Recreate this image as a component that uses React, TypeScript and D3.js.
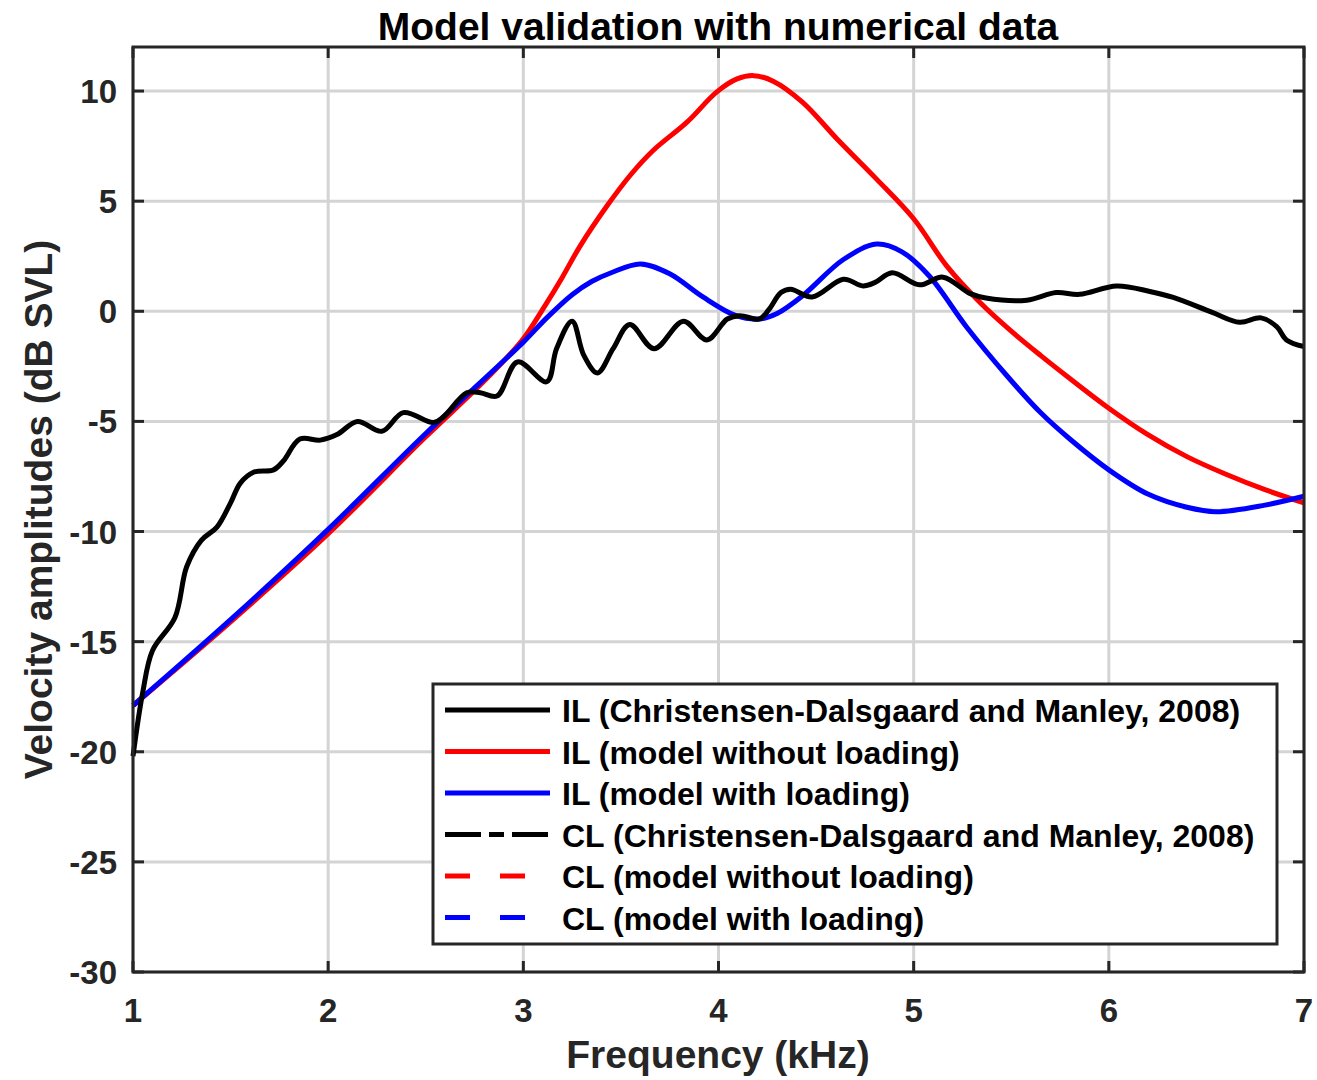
import React from "react";
import * as d3 from "d3";

const blackF = [1.0, 1.05, 1.1, 1.215, 1.275, 1.35, 1.43, 1.5, 1.55, 1.62, 1.72, 1.77, 1.855, 1.96, 2.045, 2.15, 2.275, 2.385, 2.54, 2.59, 2.71, 2.78, 2.865, 2.97, 3.12, 3.17, 3.25, 3.31, 3.38, 3.46, 3.545, 3.67, 3.82, 3.94, 4.045, 4.11, 4.21, 4.26, 4.32, 4.37, 4.48, 4.64, 4.74, 4.8, 4.89, 5.03, 5.15, 5.29, 5.37, 5.58, 5.73, 5.85, 6.04, 6.21, 6.33, 6.53, 6.67, 6.78, 6.86, 6.91, 7.0];
const blackV = [-20.2, -17.3, -15.4, -13.9, -11.6, -10.4, -9.8, -8.7, -7.8, -7.3, -7.2, -6.8, -5.8, -5.85, -5.6, -5.0, -5.45, -4.6, -5.05, -4.8, -3.7, -3.7, -3.85, -2.3, -3.2, -1.7, -0.45, -2.0, -2.8, -1.7, -0.6, -1.7, -0.45, -1.3, -0.35, -0.2, -0.35, 0.1, 0.85, 1.0, 0.65, 1.45, 1.15, 1.3, 1.75, 1.2, 1.55, 0.8, 0.6, 0.5, 0.85, 0.77, 1.15, 0.9, 0.63, -0.05, -0.5, -0.3, -0.7, -1.3, -1.6];

const redF = [1.0, 1.5, 2.0, 2.5, 2.75, 2.9, 3.0, 3.1, 3.2, 3.29, 3.43, 3.55, 3.665, 3.84, 3.99, 4.095, 4.18, 4.28, 4.43, 4.61, 4.81, 5.0, 5.17, 5.34, 5.5, 5.65, 5.8, 6.0, 6.2, 6.4, 6.6, 6.8, 7.0];
const redV = [-17.9, -14.1, -10.1, -5.7, -3.6, -2.25, -1.25, 0.1, 1.55, 2.95, 4.8, 6.2, 7.3, 8.6, 9.95, 10.55, 10.7, 10.45, 9.5, 7.8, 6.0, 4.2, 2.05, 0.4, -0.9, -2.0, -3.05, -4.4, -5.6, -6.6, -7.4, -8.1, -8.7];

const blueF = [1.0, 1.5, 2.0, 2.5, 3.0, 3.12, 3.25, 3.35, 3.45, 3.6, 3.75, 3.92, 4.09, 4.21, 4.3, 4.43, 4.64, 4.81, 4.94, 5.08, 5.27, 5.48, 5.65, 5.8, 6.0, 6.2, 6.4, 6.55, 6.8, 7.0];
const blueV = [-17.9, -14.0, -9.9, -5.55, -1.4, -0.3, 0.75, 1.35, 1.75, 2.15, 1.7, 0.65, -0.2, -0.35, -0.1, 0.7, 2.35, 3.05, 2.7, 1.6, -0.7, -2.95, -4.6, -5.8, -7.2, -8.3, -8.9, -9.1, -8.8, -8.4];

const xTicks = [1, 2, 3, 4, 5, 6, 7];
const yTicks = [-30, -25, -20, -15, -10, -5, 0, 5, 10];

const legendLabels = [
  "IL (Christensen-Dalsgaard and Manley, 2008)",
  "IL (model without loading)",
  "IL (model with loading)",
  "CL (Christensen-Dalsgaard and Manley, 2008)",
  "CL (model without loading)",
  "CL (model with loading)",
];
const legendColors = ["#000000", "#ff0000", "#0000ff", "#000000", "#ff0000", "#0000ff"];
const legendDash = ["", "", "", "36,8,15,8", "25,30", "25,30"];

const title = "Model validation with numerical data";
const xLabel = "Frequency (kHz)";
const yLabel = "Velocity amplitudes (dB SVL)";

export default function App() {
  const left = 133, right = 1304, top = 47, bottom = 972;
  const x = d3.scaleLinear().domain([1, 7]).range([left, right]);
  const y = d3.scaleLinear().domain([-30, 12]).range([bottom, top]);
  const font = "'Liberation Sans', Arial, Helvetica, sans-serif";
  const axisColor = "#262626";

  const mk = (F: number[], V: number[], curve: any) =>
    d3.line<number>().x((_, i) => x(F[i])).y((_, i) => y(V[i])).curve(curve)(F) || "";

  const blackPath = mk(blackF, blackV, d3.curveCatmullRom.alpha(0.5));
  const redPath = mk(redF, redV, d3.curveCatmullRom.alpha(0.5));
  const bluePath = mk(blueF, blueV, d3.curveCatmullRom.alpha(0.5));

  const lgX = 433, lgY = 684, lgW = 844, lgH = 260, rowH = 41.5;

  return (
    <svg width={1317} height={1080} style={{ position: "absolute", left: 0, top: 0, background: "#fff" }} fontFamily={font}>
      <rect x={0} y={0} width={1317} height={1080} fill="#fff" />
      {xTicks.map((t) => (
        <line key={"gx" + t} x1={x(t)} x2={x(t)} y1={top} y2={bottom} stroke="#d4d4d4" strokeWidth={3} />
      ))}
      {yTicks.map((t) => (
        <line key={"gy" + t} x1={left} x2={right} y1={y(t)} y2={y(t)} stroke="#d4d4d4" strokeWidth={3} />
      ))}
      {xTicks.map((t) => (
        <g key={"tx" + t}>
          <line x1={x(t)} x2={x(t)} y1={bottom} y2={bottom - 11} stroke={axisColor} strokeWidth={3} />
          <line x1={x(t)} x2={x(t)} y1={top} y2={top + 11} stroke={axisColor} strokeWidth={3} />
          <text x={x(t)} y={bottom + 50} textAnchor="middle" fontSize={33} fontWeight="bold" fill={axisColor}>{t}</text>
        </g>
      ))}
      {yTicks.map((t) => (
        <g key={"ty" + t}>
          <line x1={left} x2={left + 11} y1={y(t)} y2={y(t)} stroke={axisColor} strokeWidth={3} />
          <line x1={right} x2={right - 11} y1={y(t)} y2={y(t)} stroke={axisColor} strokeWidth={3} />
          <text x={left - 16} y={y(t) + 12} textAnchor="end" fontSize={33} fontWeight="bold" fill={axisColor}>{t}</text>
        </g>
      ))}
      <path d={redPath} fill="none" stroke="#ff0000" strokeWidth={5} strokeLinejoin="round" />
      <path d={bluePath} fill="none" stroke="#0000ff" strokeWidth={5} strokeLinejoin="round" />
      <path d={blackPath} fill="none" stroke="#000000" strokeWidth={5} strokeLinejoin="round" />
      <rect x={left} y={top} width={right - left} height={bottom - top} fill="none" stroke={axisColor} strokeWidth={3} />
      <text x={718} y={40} textAnchor="middle" fontSize={39} fontWeight="bold" fill="#000">{title}</text>
      <text x={718} y={1068} textAnchor="middle" fontSize={39} fontWeight="bold" fill={axisColor}>{xLabel}</text>
      <text transform={`translate(52, ${(top + bottom) / 2}) rotate(-90)`} textAnchor="middle" fontSize={39} fontWeight="bold" fill={axisColor}>{yLabel}</text>
      <rect x={lgX} y={lgY} width={lgW} height={lgH} fill="#fff" stroke={axisColor} strokeWidth={3} />
      {legendLabels.map((l, i) => {
        const cy = 710 + i * rowH;
        return (
          <g key={"lg" + i}>
            <line x1={445} x2={550} y1={cy} y2={cy} stroke={legendColors[i]} strokeWidth={5} strokeDasharray={legendDash[i] || undefined} />
            <text x={562} y={cy + 12} fontSize={32} fontWeight="bold" fill="#000">{l}</text>
          </g>
        );
      })}
    </svg>
  );
}
